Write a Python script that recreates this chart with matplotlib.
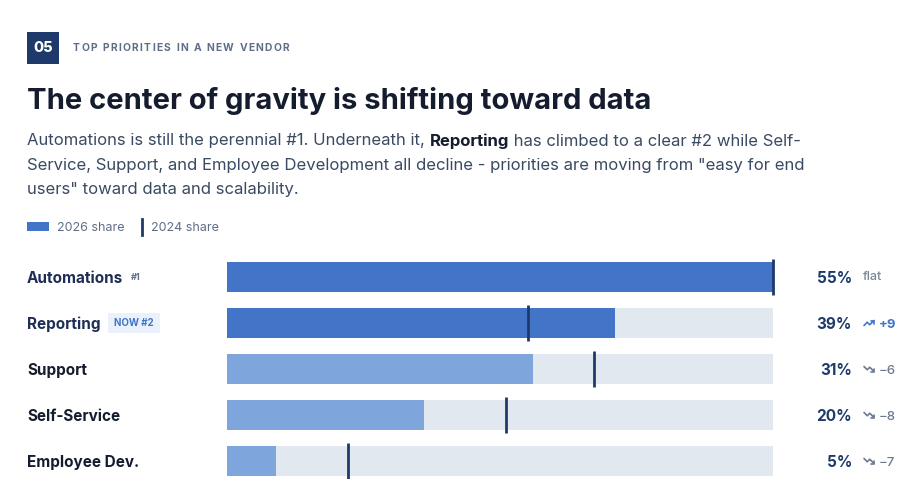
import matplotlib.pyplot as plt
from matplotlib.lines import Line2D
from matplotlib.patches import Rectangle
import matplotlib.transforms as mtransforms

plt.rcParams['font.family'] = ['Inter', 'DejaVu Sans']

# data
categories = ["Automations", "Reporting", "Support", "Self-Service", "Employee Dev."]
share_2026 = [55.0, 39.1, 30.8, 19.8, 4.9]
share_2024 = [55.0, 30.3, 37.0, 28.1, 12.2]
delta_labels = ["flat", "+9", "\u22126", "\u22128", "\u22127"]
trend = ["flat", "up", "down", "down", "down"]
highlight = [True, True, False, False, False]

W, H = 920, 479
fig = plt.figure(figsize=(W / 100, H / 100), dpi=100)
fig.patch.set_facecolor("white")
renderer = fig.canvas.get_renderer()


def fx(x):
    return x / W


def fy(y):
    return 1 - y / H


navy = "#1E3A6A"
blue = "#4275C7"
light_blue = "#7FA6DC"
track = "#E2E8F0"
gray = "#5E6E88"
ink = "#141C2E"

# header badge
fig.add_artist(Rectangle((fx(27), fy(64)), 32 / W, 32 / H, transform=fig.transFigure,
                         facecolor=navy, edgecolor="none"))
fig.text(fx(43), fy(48), "05", color="white", fontsize=10.5, fontweight="heavy",
         ha="center", va="center")

# kicker with letter spacing
x = 73
for ch in "TOP PRIORITIES IN A NEW VENDOR":
    t = fig.text(fx(x), fy(48), ch, color=gray, fontsize=7.4, fontweight="bold",
                 ha="left", va="center")
    x += t.get_window_extent(renderer=renderer).width if ch != " " else 3.0
    x += 1.3

fig.text(fx(27), fy(101), "The center of gravity is shifting toward data", color=ink,
         fontsize=21, fontweight="bold", ha="left", va="center")

# subtitle with one bold word
sub_color = "#3A4A63"


def run_line(y, parts):
    x = fx(27)
    for txt, weight in parts:
        t = fig.text(x, fy(y), txt, color=ink if weight == "bold" else sub_color,
                     fontsize=12, fontweight=weight, ha="left", va="center")
        bb = t.get_window_extent(renderer=renderer)
        x += bb.width / W


run_line(141, [("Automations is still the perennial #1. Underneath it, ", "normal"),
               ("Reporting", "bold"),
               (" has climbed to a clear #2 while Self-", "normal")])
run_line(165.5, [("Service, Support, and Employee Development all decline - priorities are moving from \"easy for end", "normal")])
run_line(190, [("users\" toward data and scalability.", "normal")])

# legend
fig.add_artist(Rectangle((fx(27), fy(231)), 22 / W, 9 / H, transform=fig.transFigure,
                         facecolor=blue, edgecolor="none"))
fig.text(fx(57), fy(228), "2026 share", color=gray, fontsize=9, ha="left", va="center")
fig.add_artist(Line2D([fx(142), fx(142)], [fy(219), fy(235)], transform=fig.transFigure,
                      color=navy, linewidth=2))
fig.text(fx(151), fy(228), "2024 share", color=gray, fontsize=9, ha="left", va="center")

# bars
ax_top, ax_bot = 254, 479
ax = fig.add_axes([fx(227), fy(ax_bot), 546 / W, (ax_bot - ax_top) / H])
ax.set_xlim(0, 55)
ax.set_ylim((ax_bot - ax_top) / 46 - 0.5, -0.5)
ax.axis("off")

ys = list(range(len(categories)))
bh = 30 / 46
ax.barh(ys, [55] * len(ys), height=bh, color=track, edgecolor="none")
ax.barh(ys, share_2026, height=bh, color=[blue if h else light_blue for h in highlight],
        edgecolor="none")
for y, v in zip(ys, share_2024):
    ax.plot([v, v], [y - bh / 2 - 0.07, y + bh / 2 + 0.07], color=navy, linewidth=2,
            solid_capstyle="butt", clip_on=False)

tr = mtransforms.blended_transform_factory(fig.transFigure, ax.transData)
dy = 1.5 / 46  # nudge text down slightly

for i, cat in enumerate(categories):
    lab = ax.text(fx(27), i + dy, cat, transform=tr, fontsize=11, fontweight="bold",
                  color="#1E2E55" if highlight[i] else ink, ha="left", va="center")
    bb = lab.get_window_extent(renderer=renderer)
    if i == 0:
        ax.text(bb.x1 / W + 8 / W, i + 0.01, "#1", transform=tr, fontsize=6.5,
                fontweight="bold", color=gray, ha="left", va="center")
    if i == 1:
        x0 = bb.x1 / W + 7 / W
        ax.add_artist(Rectangle((x0, i - 10 / 46), 52 / W, 20 / 46, transform=tr,
                                facecolor="#EAF1FB", edgecolor="none", clip_on=False))
        ax.text(x0 + 26 / W, i, "NOW #2", transform=tr, fontsize=7, fontweight="bold",
                color=blue, ha="center", va="center")
    ax.text(fx(852), i + dy, f"{share_2026[i]:.0f}%", transform=tr, fontsize=11,
            fontweight="bold", color=navy, ha="right", va="center")
    if trend[i] == "flat":
        ax.text(fx(863), i, delta_labels[i], transform=tr, fontsize=9,
                fontweight="medium", color="#7A8699", ha="left", va="center")
    else:
        col = blue if trend[i] == "up" else "#6B7A90"
        # small trend icon, 12px box
        cy = 277 + 46 * i
        ox, oy, s = 863, cy - 6, 12 / 24
        if trend[i] == "up":
            pts = [(2, 17), (8.5, 10.5), (13.5, 15.5), (22, 7)]
            head = [(16, 7), (22, 7), (22, 13)]
        else:
            pts = [(2, 7), (8.5, 13.5), (13.5, 8.5), (22, 17)]
            head = [(16, 17), (22, 17), (22, 11)]
        for poly in (pts, head):
            fig.add_artist(Line2D([fx(ox + px * s) for px, py in poly],
                                  [fy(oy + py * s) for px, py in poly],
                                  transform=fig.transFigure, color=col, linewidth=1.2,
                                  solid_joinstyle="round", solid_capstyle="round"))
        ax.text(fx(879), i + dy, delta_labels[i], transform=tr, fontsize=9.5,
                fontweight="bold" if trend[i] == "up" else "medium",
                color=col, ha="left", va="center")

fig.savefig("out.png", dpi=100)
